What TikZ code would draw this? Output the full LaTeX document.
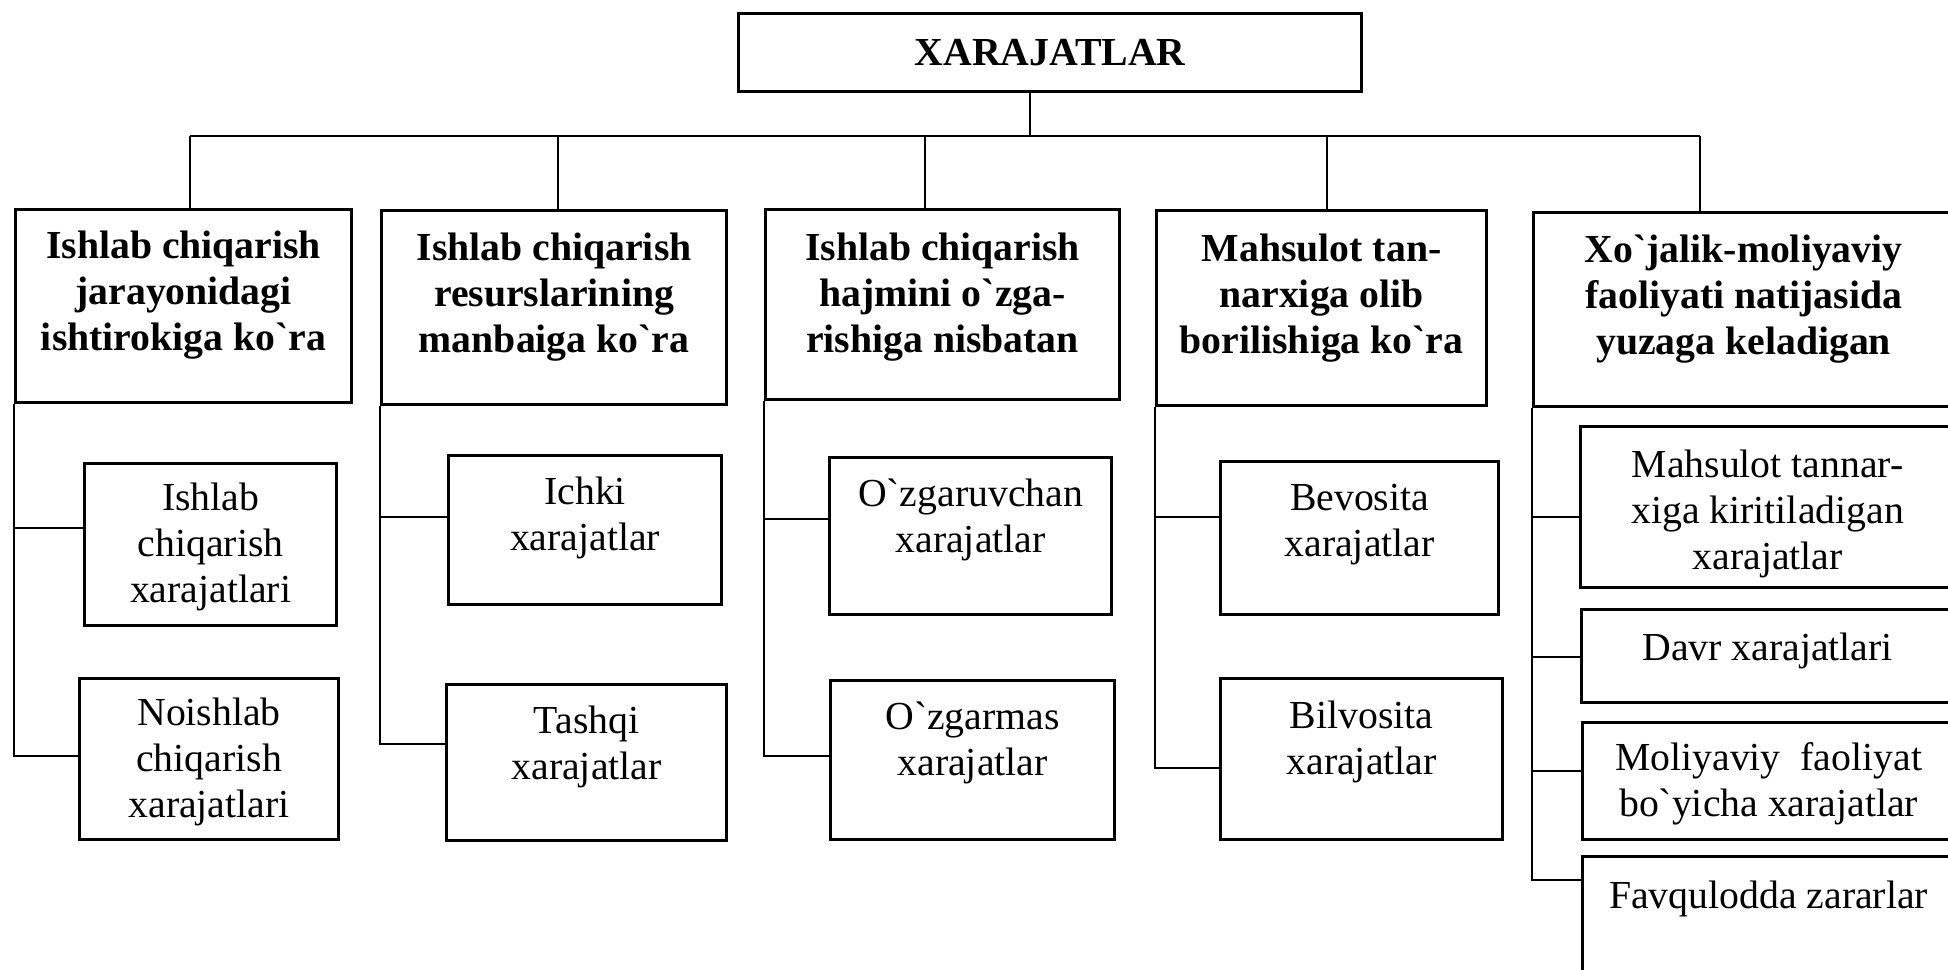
\documentclass[tikz,border=0pt]{standalone}
\usepackage{fontspec}
\setmainfont{Liberation Serif}[Ligatures=TeXOff]
\usepackage{tikz}
\usetikzlibrary{positioning}

\begin{document}
\begin{tikzpicture}[x=0.01cm, y=-0.01cm,
    box/.style={draw, line width=0.85pt, anchor=north west, inner sep=0pt},
    head/.style={font=\bfseries\fontsize{11.3}{13.1}\selectfont, align=center,
                 inner sep=0pt, anchor=north},
    item/.style={font=\fontsize{11.3}{13.1}\selectfont, align=center,
                 inner sep=0pt, anchor=north},
    link/.style={line width=0.7pt}]
  \useasboundingbox (0,0) rectangle (1948,969);
  \clip (0,0) rectangle (1948,969);

  \node[box, minimum width=6.23cm, minimum height=0.78cm,
        font=\bfseries\fontsize{11.3}{13.1}\selectfont] (xar) at (737,12) {XARAJATLAR};

  \node[box, minimum width=3.36cm, minimum height=1.93cm] (k1) at (14,208) {};
  \node[box, minimum width=3.45cm, minimum height=1.94cm] (k2) at (380,209) {};
  \node[box, minimum width=3.54cm, minimum height=1.90cm] (k3) at (764,208) {};
  \node[box, minimum width=3.30cm, minimum height=1.95cm] (k4) at (1155,209) {};
  \node[box, minimum width=4.20cm, minimum height=1.94cm] (k5) at (1532,211) {};

  \node[head] (k1-t) at ([yshift=-0.22cm]k1.north) {Ishlab chiqarish\\jarayonidagi\\ishtirokiga ko`ra};
  \node[head] (k2-t) at ([yshift=-0.23cm]k2.north) {Ishlab chiqarish\\resurslarining\\manbaiga ko`ra};
  \node[head] (k3-t) at ([yshift=-0.24cm]k3.north) {Ishlab chiqarish\\hajmini o`zga-\\rishiga nisbatan};
  \node[head] (k4-t) at ([yshift=-0.24cm]k4.north) {Mahsulot tan-\\narxiga olib\\borilishiga ko`ra};
  \node[head] (k5-t) at ([yshift=-0.23cm]k5.north) {Xo`jalik-moliyaviy\\faoliyati natijasida\\yuzaga keladigan};

  \node[box, minimum width=2.52cm, minimum height=1.62cm] (k1a) at (83,462) {};
  \node[box, minimum width=2.59cm, minimum height=1.61cm] (k1b) at (78,677) {};
  \node[box, minimum width=2.73cm, minimum height=1.49cm] (k2a) at (447,454) {};
  \node[box, minimum width=2.80cm, minimum height=1.56cm] (k2b) at (445,683) {};
  \node[box, minimum width=2.82cm, minimum height=1.57cm] (k3a) at (828,456) {};
  \node[box, minimum width=2.84cm, minimum height=1.59cm] (k3b) at (829,679) {};
  \node[box, minimum width=2.78cm, minimum height=1.53cm] (k4a) at (1219,460) {};
  \node[box, minimum width=2.82cm, minimum height=1.61cm] (k4b) at (1219,677) {};
  \node[box, minimum width=3.74cm, minimum height=1.61cm] (k5a) at (1579,425) {};
  \node[box, minimum width=3.72cm, minimum height=0.93cm] (k5b) at (1580,608) {};
  \node[box, minimum width=3.72cm, minimum height=1.17cm] (k5c) at (1581,721) {};
  \node[box, minimum width=3.72cm, minimum height=1.50cm] (k5d) at (1581,855) {};

  \node[item] (k1a-t) at ([yshift=-0.20cm]k1a.north) {Ishlab\\chiqarish\\xarajatlari};
  \node[item] (k1b-t) at ([yshift=-0.20cm]k1b.north) {Noishlab\\chiqarish\\xarajatlari};
  \node[item] (k2a-t) at ([yshift=-0.22cm]k2a.north) {Ichki\\xarajatlar};
  \node[item] (k2b-t) at ([yshift=-0.22cm]k2b.north) {Tashqi\\xarajatlar};
  \node[item] (k3a-t) at ([yshift=-0.22cm]k3a.north) {O`zgaruvchan\\xarajatlar};
  \node[item] (k3b-t) at ([yshift=-0.22cm]k3b.north) {O`zgarmas\\xarajatlar};
  \node[item] (k4a-t) at ([yshift=-0.23cm]k4a.north) {Bevosita\\xarajatlar};
  \node[item] (k4b-t) at ([yshift=-0.23cm]k4b.north) {Bilvosita\\xarajatlar};
  \node[item] (k5a-t) at ([yshift=-0.24cm]k5a.north) {Mahsulot tannar-\\xiga kiritiladigan\\xarajatlar};
  \node[item] (k5b-t) at ([yshift=-0.24cm]k5b.north) {Davr xarajatlari};
  \node[item] (k5c-t) at ([yshift=-0.21cm]k5c.north) {Moliyaviy\ \ faoliyat\\bo`yicha xarajatlar};
  \node[item] (k5d-t) at ([yshift=-0.25cm]k5d.north) {Favqulodda zararlar};

  \draw[link] (xar.south -| 1030,0) -- (1030,136);
  \draw[link] (190,136) -- (1700,136);
  \foreach \x/\k in {190/k1, 558/k2, 925/k3, 1327/k4, 1700/k5}
    \draw[link] (\x,136) -- (\x,136 |- \k.north);

  \draw[link] (k1.south west) |- (k1b.west |- 0,756);
  \draw[link] (k1.south west |- 0,528) -- (k1a.west |- 0,528);
  \draw[link] (k2.south west) |- (k2b.west |- 0,744);
  \draw[link] (k2.south west |- 0,517) -- (k2a.west |- 0,517);
  \draw[link] (k3.south west) |- (k3b.west |- 0,756);
  \draw[link] (k3.south west |- 0,519) -- (k3a.west |- 0,519);
  \draw[link] (k4.south west) |- (k4b.west |- 0,768);
  \draw[link] (k4.south west |- 0,517) -- (k4a.west |- 0,517);
  \draw[link] (k5.south west) |- (k5d.west |- 0,880);
  \foreach \s/\y in {k5a/517, k5b/657, k5c/771}
    \draw[link] (k5.south west |- 0,\y) -- (\s.west |- 0,\y);
\end{tikzpicture}
\end{document}
